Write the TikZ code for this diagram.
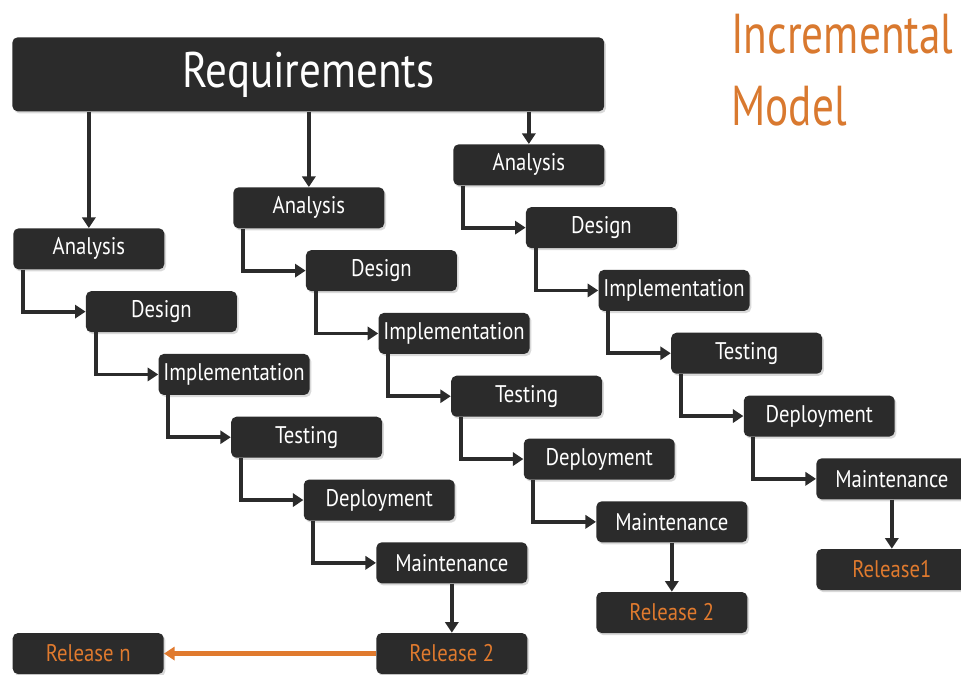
\documentclass[tikz,border=0pt]{standalone}
\usepackage{fontspec}
\setmainfont{PT Sans}
\newfontfamily\boxfont[FakeStretch=0.86]{PT Sans}
\newfontfamily\titlefont[FakeStretch=0.77]{PT Sans}
\usetikzlibrary{arrows.meta,positioning,shadows}
\definecolor{boxgray}{HTML}{2B2B2B}
\definecolor{relorange}{HTML}{E07A2E}
\definecolor{titleorange}{HTML}{D9792F}

\begin{document}
\begin{tikzpicture}[x=0.02cm,y=-0.02cm,
  phase/.style={fill=boxgray,rounded corners=3pt,text=white,inner sep=0pt,
    minimum width=3.02cm,minimum height=0.82cm,anchor=north west,
    font=\boxfont\fontsize{13.7}{15}\selectfont,
    drop shadow={opacity=0.3,shadow xshift=1pt,shadow yshift=-1.2pt}},
  release/.style={phase,text=relorange},
  flow/.style={line width=2.2pt,draw=boxgray,-{Triangle[length=6pt,width=7.5pt]}}]
\useasboundingbox (0,0) rectangle (961,675);
%title
\node[anchor=north west,text=titleorange,align=left,inner sep=0pt,
  font=\titlefont\fontsize{32}{41}\selectfont] (title) at (731,14) {Incremental\\Model};
\node[phase,minimum width=11.84cm,minimum height=1.48cm,
  font=\boxfont\fontsize{28.5}{30}\selectfont] (req) at (12,37) {Requirements};
% three increments
\foreach \c/\x/\y in {1/13/228,2/233/187,3/453/144}{
  \foreach \s/\t [count=\k from 0] in {a/Analysis,d/Design,i/Implementation,t/Testing,p/Deployment,m/Maintenance}
    \node[phase] (\s\c) at ({\x+72.6*\k},{\y+62.8*\k}) {\t};
  \draw[flow] (a\c.north |- req.south) -- (a\c.north);
  \draw[flow] ([xshift=0.2cm]a\c.south west) |- (d\c.west);
  \draw[flow] ([xshift=0.2cm]d\c.south west) |- (i\c.west);
  \draw[flow] ([xshift=0.2cm]i\c.south west) |- (t\c.west);
  \draw[flow] ([xshift=0.2cm]t\c.south west) |- (p\c.west);
  \draw[flow] ([xshift=0.2cm]p\c.south west) |- (m\c.west);
}
\node[release,below=0.98cm of m1] (r1) {Release 2};
\node[release,below=0.98cm of m2] (r2) {Release 2};
\node[release,below=0.98cm of m3] (r3) {Release1};
\node[release,left=4.24cm of r1] (rn) {Release n};
\draw[flow] (m1) -- (r1);
\draw[flow] (m2) -- (r2);
\draw[flow] (m3) -- (r3);
\draw[flow,line width=3pt,draw=relorange] (r1) -- (rn);
\end{tikzpicture}
\end{document}
